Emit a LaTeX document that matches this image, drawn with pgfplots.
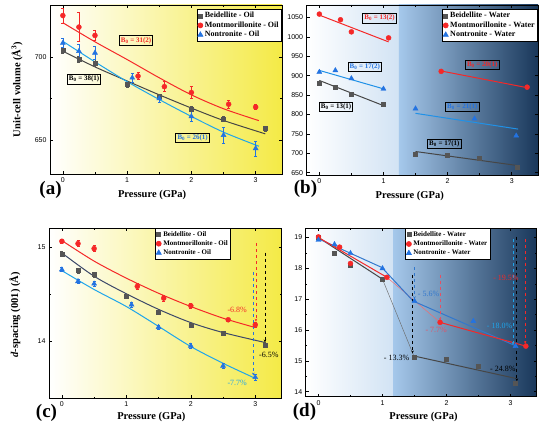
\documentclass[border=0pt]{standalone}
\usepackage{pgfplots}
\pgfplotsset{compat=1.18}
\usepackage{fontspec}
\setmainfont{Liberation Serif}
\setsansfont{Liberation Sans}
\usetikzlibrary{arrows.meta}
\definecolor{gsq}{RGB}{85,85,85}
\definecolor{gln}{RGB}{70,70,70}
\definecolor{redc}{RGB}{245,40,40}
\definecolor{bluet}{RGB}{35,115,225}
\definecolor{cyanl}{RGB}{30,165,235}
\definecolor{slate}{RGB}{60,72,105}
\definecolor{yel}{RGB}{244,234,70}
\definecolor{yelm}{RGB}{251,248,195}
\definecolor{bl1}{RGB}{210,227,244}
\definecolor{bl2}{RGB}{165,200,235}
\definecolor{blm}{RGB}{135,170,210}
\definecolor{navy}{RGB}{25,55,90}
\definecolor{pinkc}{RGB}{230,80,100}
\definecolor{bluem}{RGB}{50,120,205}
\tikzset{
  bbox/.style={draw=black, line width=0.9pt, inner sep=1.6pt, font=\bfseries\fontsize{7}{8}\selectfont},
  pct/.style={font=\fontsize{8}{9}\selectfont},
  darr/.style={dashed, line width=0.8pt, -{Stealth[length=3pt,width=2.5pt]}},
}
\pgfplotsset{
  base/.style={
    scale only axis, anchor=south west,
    xmin=-0.2, xmax=3.41, xtick={0,1,2,3},
    minor x tick num=1, minor y tick num=1,
    tick align=inside, major tick length=3pt, minor tick length=1.6pt,
    axis on top, clip=false,
    axis line style={line width=0.7pt},
    tick style={line width=0.6pt, black},
    tick label style={font=\sffamily\fontsize{7}{8}\selectfont},
    /pgf/number format/assume math mode=true,
    /pgf/number format/1000 sep={},
    label style={font=\bfseries\fontsize{10.5}{12}\selectfont},
    xlabel={Pressure (GPa)},
    legend cell align=left,
    legend style={font=\bfseries\fontsize{7}{8}\selectfont, draw=black, line width=0.7pt, fill=white,
      inner sep=1pt, row sep=-1.2pt},
    legend image code/.code={\draw[#1] plot coordinates {(3pt,0pt)};},
  },
  bigleg/.style={legend style={font=\bfseries\fontsize{8}{9}\selectfont, row sep=-1.6pt}},
  bsq/.style={only marks, mark=square*, mark size=2pt, color=gsq},
  rci/.style={only marks, mark=*, mark size=2.5pt, color=redc},
  btr/.style={only marks, mark=triangle*, mark size=2.9pt, color=bluet},
  eb/.style={error bars/.cd, y dir=both, y explicit, error bar style={line width=0.6pt}, error mark options={rotate=90, mark size=1.5pt, line width=0.6pt}},
}
\begin{document}
\begin{tikzpicture}
% ---------------- (a)
\begin{axis}[base, bigleg, at={(50pt,252pt)}, width=232pt, height=169pt,
  ymin=630, ymax=731, ytick={650,700},
  ylabel={Unit-cell volume (Å\textsuperscript{3})},
  ylabel style={at={(axis description cs:-0.142,0.5)}, anchor=center},
  xlabel style={at={(axis description cs:0.44,-0.125)}, anchor=center},
  axis background/.style={left color=white, middle color=yelm, right color=yel},
  legend style={at={(1,0.976)}, anchor=north east}]
\addplot[color=redc, line width=1pt, smooth, forget plot] coordinates {(0,720.4)(0.5,709)(1,698.4)(1.5,687.5)(2,677.3)(2.5,669)(3.05,661.9)};
\addplot[color=gln, line width=1pt, smooth, forget plot] coordinates {(0,703.4)(0.5,694)(1,685.6)(1.5,677.3)(2,669.4)(2.5,662)(3.15,654)};
\addplot[color=cyanl, line width=1pt, smooth, forget plot] coordinates {(0,709.3)(0.5,697)(1,685.2)(1.5,674.5)(2,664.4)(2.5,655)(3.05,646.6)};
\addplot[bsq, eb] coordinates {(0,703.9)+-(0,1.5) (0.25,698.4)+-(0,1.8) (0.5,696.4)+-(0,2) (1.0,683.6)+-(0,1.5) (1.5,676.3)+-(0,1.5) (2.0,668.8)+-(0,1.5) (2.5,663.0)+-(0,1.5) (3.15,657.3)+-(0,1.5)};
\addlegendentry{Beidellite - Oil}
\addplot[rci, eb] coordinates {(0,724.7)+-(0,4.5) (0.25,717.8)+-(0,8.6) (0.5,712.8)+-(0,3) (1.17,688.5)+-(0,2) (1.58,682.2)+-(0,3) (2.0,678.7)+-(0,3.5) (2.58,671.7)+-(0,2.5) (3.0,670)+-(0,1.5)};
\addlegendentry{Montmorillonite - Oil}
\addplot[btr, eb] coordinates {(0,708.3)+-(0,2.5) (0.25,703.4)+-(0,4) (0.5,702.4)+-(0,4) (1.08,687.5)+-(0,2.5) (1.5,675.1)+-(0,2.5) (2.0,664.4)+-(0,3) (2.5,653.2)+-(0,5) (3.0,645.3)+-(0,4.5)};
\addlegendentry{Nontronite - Oil}
\node[bbox, text=redc] at (axis cs:1.14,709.7) {B\textsubscript{0} = 31(2)};
\node[bbox, text=black] at (axis cs:0.33,686.6) {B\textsubscript{0} = 38(1)};
\node[bbox, text=bluet] at (axis cs:2.02,651.6) {B\textsubscript{0} = 26(1)};
\end{axis}
% ---------------- (b)
\begin{axis}[base, bigleg, at={(306.5pt,251pt)}, width=231.5pt, height=170pt,
  ymin=644, ymax=1082, ytick={650,700,...,1050}, minor y tick num=0,
  xlabel style={at={(axis description cs:0.446,-0.124)}, anchor=center},
  legend style={at={(1,0.976)}, anchor=north east}]
\fill[left color=white, right color=bl1] (axis cs:-0.2,644) rectangle (axis cs:1.24,1082);
\fill[left color=bl2, middle color=blm, right color=navy] (axis cs:1.24,644) rectangle (axis cs:3.41,1082);
\addplot[color=redc, line width=1pt, forget plot] coordinates {(0,1056)(1.08,987)};
\addplot[color=redc, line width=1pt, forget plot] coordinates {(1.9,912)(3.2,870.3)};
\addplot[color=gln, line width=1pt, forget plot] coordinates {(0,887.6)(1.0,822.8)};
\addplot[color=gln, line width=1pt, forget plot] coordinates {(1.5,704.5)(3.1,668.2)};
\addplot[color=cyanl!60!bluet, line width=1pt, forget plot] coordinates {(0,913.5)(1.0,866)};
\addplot[color=cyanl!60!bluet, line width=1pt, forget plot] coordinates {(1.5,802.9)(3.1,762.3)};
\addplot[bsq] coordinates {(0,881.5)(0.25,870.3)(0.5,853)(1.0,825.4)(1.5,698.4)(2.0,695.8)(2.5,686.3)(3.08,663.8)};
\addlegendentry{Beidellite - Water}
\addplot[rci] coordinates {(0,1058.6)(0.33,1044)(0.5,1012.8)(1.08,997.3)(1.9,911)(3.24,870.3)};
\addlegendentry{Montmorillonite - Water}
\addplot[btr] coordinates {(0,909.2)(0.25,913.5)(0.5,892.8)(1.0,866)(1.5,815)(2.42,789)(3.07,745)};
\addlegendentry{Nontronite - Water}
\node[bbox, text=redc] at (axis cs:0.94,1048) {B\textsubscript{0} = 13(2)};
\node[bbox, text=bluet] at (axis cs:0.71,922) {B\textsubscript{0} = 17(2)};
\node[bbox, text=black] at (axis cs:0.26,819.4) {B\textsubscript{0} = 13(1)};
\node[bbox, text=redc] at (axis cs:2.54,927) {B\textsubscript{0} = 20(1)};
\node[bbox, text=bluet] at (axis cs:2.23,819) {B\textsubscript{0} = 21(1)};
\node[bbox, text=black] at (axis cs:1.95,724) {B\textsubscript{0} = 17(1)};
\end{axis}
% ---------------- (c)
\begin{axis}[base, at={(49pt,27.7pt)}, width=232.7pt, height=170.3pt,
  ymin=13.4, ymax=15.2, ytick={14,15},
  ylabel={\textit{d}-spacing (001) (Å)},
  ylabel style={at={(axis description cs:-0.146,0.49)}, anchor=center},
  xlabel style={at={(axis description cs:0.44,-0.108)}, anchor=center},
  axis background/.style={left color=white, middle color=yelm, right color=yel},
  legend style={at={(0.455,1)}, anchor=north west}]
\addplot[color=redc, line width=1pt, smooth, forget plot] coordinates {(0,15.067)(0.5,14.85)(1,14.67)(1.5,14.51)(2,14.37)(2.5,14.247)(3,14.148)};
\addplot[color=slate, line width=1pt, smooth, forget plot] coordinates {(0,14.936)(0.5,14.69)(1,14.505)(1.5,14.34)(2,14.2)(2.5,14.095)(3.15,13.99)};
\addplot[color=cyanl, line width=1pt, smooth, forget plot] coordinates {(0,14.749)(0.5,14.55)(1,14.37)(1.5,14.16)(2,13.947)(2.5,13.77)(3,13.611)};
\addplot[bsq, eb] coordinates {(0,14.926)+-(0,0.025) (0.25,14.749)+-(0,0.03) (0.5,14.707)+-(0,0.03) (1.0,14.477)+-(0,0.02) (1.5,14.311)+-(0,0.02) (2.0,14.177)+-(0,0.02) (2.5,14.088)+-(0,0.02) (3.15,13.965)+-(0,0.03)};
\addlegendentry{Beidellite - Oil}
\addplot[rci, eb] coordinates {(0,15.06)+-(0,0.025) (0.25,15.035)+-(0,0.03) (0.5,14.982)+-(0,0.03) (1.17,14.583)+-(0,0.03) (1.58,14.459)+-(0,0.03) (2.0,14.378)+-(0,0.03) (2.58,14.23)+-(0,0.02) (3.0,14.177)+-(0,0.03)};
\addlegendentry{Montmorillonite - Oil}
\addplot[btr, eb] coordinates {(0,14.76)+-(0,0.02) (0.25,14.636)+-(0,0.02) (0.5,14.611)+-(0,0.03) (1.08,14.389)+-(0,0.03) (1.5,14.152)+-(0,0.02) (2.0,13.954)+-(0,0.03) (2.5,13.742)+-(0,0.03) (3.0,13.622)+-(0,0.03)};
\addlegendentry{Nontronite - Oil}
\draw[darr, color=redc] (axis cs:3.01,15.04) -- (axis cs:3.01,14.21);
\draw[darr, color=black] (axis cs:3.15,14.94) -- (axis cs:3.15,13.99);
\draw[darr, color=bluet] (axis cs:2.97,14.73) -- (axis cs:2.97,13.64);
\node[pct, text=redc] at (axis cs:2.72,14.33) {-6.8\%};
\node[pct, text=black] at (axis cs:3.21,13.86) {-6.5\%};
\node[pct, text=cyanl] at (axis cs:2.72,13.56) {-7.7\%};
\end{axis}
% ---------------- (d)
\begin{axis}[base, at={(305.7pt,29.3pt)}, width=231pt, height=168.4pt,
  ymin=13.84, ymax=19.3, ytick={14,15,16,17,18,19},
  xlabel style={at={(axis description cs:0.51,-0.119)}, anchor=center},
  legend style={at={(0.43,1)}, anchor=north west}]
\fill[left color=white, right color=bl1] (axis cs:-0.2,13.84) rectangle (axis cs:1.17,19.3);
\fill[left color=bl2, middle color=blm, right color=navy] (axis cs:1.17,13.84) rectangle (axis cs:3.41,19.3);
\addplot[color=gln!80, line width=0.45pt, forget plot] coordinates {(1.0,17.65)(1.5,15.11)};
\addplot[color=redc!70, line width=0.45pt, forget plot] coordinates {(1.07,17.71)(1.9,16.25)};
\addplot[color=gln, line width=1pt, forget plot] coordinates {(0,19.0)(1.0,17.65)};
\addplot[color=gln, line width=1pt, forget plot] coordinates {(1.47,15.17)(3.09,14.43)};
\addplot[color=bluem, line width=1pt, forget plot] coordinates {(0,18.96)(0.99,18.03)(1.48,16.94)(3.09,15.48)};
\addplot[color=redc, line width=1pt, forget plot] coordinates {(0,19.0)(1.07,17.71)};
\addplot[color=redc, line width=1pt, forget plot] coordinates {(1.9,16.25)(3.24,15.48)};
\addplot[bsq] coordinates {(0,19.0)(0.25,18.49)(0.5,18.11)(1.0,17.65)(1.5,15.11)(2.0,15.06)(2.5,14.83)(3.08,14.29)};
\addlegendentry{Beidellite - Water}
\addplot[rci] coordinates {(0,19.02)(0.33,18.69)(0.5,18.16)(1.07,17.71)(1.9,16.25)(3.24,15.48)};
\addlegendentry{Montmorillonite - Water}
\addplot[btr] coordinates {(0,18.92)(0.25,18.78)(0.5,18.49)(1.0,18.0)(1.5,16.94)(2.42,16.29)(3.08,15.48)};
\addlegendentry{Nontronite - Water}
\draw[darr, color=black] (axis cs:1.47,17.79) -- (axis cs:1.47,15.24);
\draw[darr, color=pinkc] (axis cs:1.9,17.79) -- (axis cs:1.9,16.3);
\draw[darr, color=bluem] (axis cs:1.5,18.03) -- (axis cs:1.5,17.0);
\draw[darr, color=cyanl] (axis cs:3.04,18.96) -- (axis cs:3.04,15.52);
\draw[darr, color=black] (axis cs:3.1,19.03) -- (axis cs:3.1,14.34);
\draw[darr, color=redc] (axis cs:3.23,18.96) -- (axis cs:3.23,15.55);
\node[pct, text=black] at (axis cs:1.22,15.1) {- 13.3\%};
\node[pct, text=bluem] at (axis cs:1.72,17.18) {- 5.6\%};
\node[pct, text=pinkc] at (axis cs:1.84,16.0) {- 7.7\%};
\node[pct, text=redc] at (axis cs:2.93,17.7) {- 19.5\%};
\node[pct, text=cyanl] at (axis cs:2.83,16.15) {- 18.0\%};
\node[pct, text=black] at (axis cs:2.88,14.74) {- 24.8\%};
\end{axis}
% panel labels
\node[font=\bfseries\fontsize{19}{20}\selectfont] at (50.5pt,236pt) {(a)};
\node[font=\bfseries\fontsize{19}{20}\selectfont] at (305.5pt,237pt) {(b)};
\node[font=\bfseries\fontsize{19}{20}\selectfont] at (46.5pt,13pt) {(c)};
\node[font=\bfseries\fontsize{19}{20}\selectfont] at (304.5pt,14pt) {(d)};
\pgfresetboundingbox
\path (0pt,0pt) rectangle (543pt,426pt);
\end{tikzpicture}
\end{document}
